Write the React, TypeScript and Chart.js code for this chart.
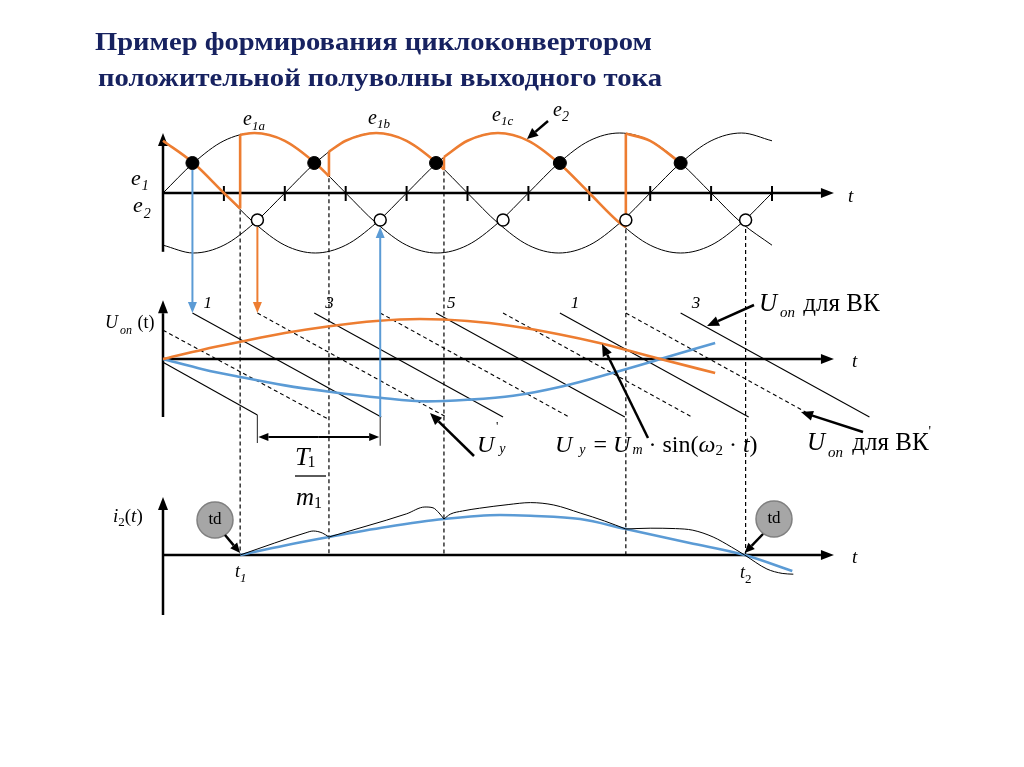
import React, { useEffect, useRef } from 'react';
import { Chart, registerables } from 'chart.js';

Chart.register(...registerables);

// ---------------- data ----------------
// supply phase, electrical degrees
const PHASE = [0, 30, 60, 90, 120, 150, 180, 210, 240, 270, 300, 330, 360, 390, 420, 450, 480, 510, 540, 570, 600];
const E1_A = [0, 0.5, 0.87, 1, 0.87, 0.5, 0, -0.5, -0.87, -1, -0.87, -0.5, 0, 0.5, 0.87, 1, 0.87, 0.5, 0, -0.5, -0.87];
const E1_B = [-0.87, -1, -0.87, -0.5, 0, 0.5, 0.87, 1, 0.87, 0.5, 0, -0.5, -0.87, -1, -0.87, -0.5, 0, 0.5, 0.87, 1, 0.87];
const E1_C = [0.87, 0.5, 0, -0.5, -0.87, -1, -0.87, -0.5, 0, 0.5, 0.87, 1, 0.87, 0.5, 0, -0.5, -0.87, -1, -0.87, -0.5, 0];
const PHASE_TICKS = [60, 120, 180, 240, 300, 360, 420, 480, 540, 600];

// orange output envelope e2 (arcs between switchings)
const ENV_X = [
  [0, 30, 60, 76],
  [76, 90, 120, 150, 163.5],
  [163.5, 180, 210, 240, 270, 276.8],
  [276.8, 300, 330, 360, 390, 420, 450, 456],
  [456, 480, 510],
];
const ENV_Y = [
  [0.87, 0.5, 0, -0.26],
  [0.97, 1, 0.87, 0.5, 0.28],
  [0.69, 0.87, 1, 0.87, 0.5, 0.39],
  [0.6, 0.87, 1, 0.87, 0.5, 0, -0.5, -0.57],
  [0.99, 0.87, 0.5],
];

const FILLED_DOT_X = [29, 149, 269, 391, 510];
const FILLED_DOT_Y = [0.5, 0.5, 0.5, 0.5, 0.5];
const OPEN_DOT_X = [93, 214, 335, 456, 574];
const OPEN_DOT_Y = [-0.45, -0.45, -0.45, -0.45, -0.45];

// switching instants (dashed verticals) and where they start on e-diagram
const SWITCH_X = [76, 163.5, 276.8, 456, 574];
const SWITCH_TOP = [-0.26, 0.28, 0.39, -0.57, -0.45];

// ramp (U_on) lines
const VK_RAMP_START = [29, 149, 269, 391, 510];
const VK_RAMP_LABEL = ['1', '3', '5', '1', '3'];
const VKP_RAMP_START = [93, 214, 335, 456];
const RAMP_SPAN = 186;
const RAMP_TOP = 1.15;
const RAMP_BOTTOM = -1.45;
const VK_PART_X = [0, 93];
const VK_PART_Y = [-0.08, -1.4];
const VKP_PART_X = [0, 164];
const VKP_PART_Y = [0.72, -1.52];

// control voltages
const UY_X = [0, 40, 76, 120, 164, 210, 253, 300, 345, 390, 430, 465, 490, 544];
const UY = [0, 0.24, 0.43, 0.65, 0.82, 0.95, 1.0, 0.95, 0.82, 0.62, 0.4, 0.17, 0, -0.35];
const UYP_X = [0, 40, 76, 120, 164, 214, 260, 300, 345, 394, 440, 477, 490, 544];
const UYP = [0, -0.26, -0.45, -0.66, -0.82, -0.97, -1.06, -1.02, -0.92, -0.68, -0.37, -0.1, 0, 0.4];

// output current
const I2_X = [76, 120, 163.5, 220, 276.8, 332, 362, 411, 456, 519, 573, 620];
const I2 = [0, 0.24, 0.45, 0.7, 0.9, 1.0, 0.98, 0.9, 0.65, 0.3, 0, -0.4];
const I2_RIPPLE_X = [
  [76, 110, 140, 148, 157, 163.5],
  [163.5, 200, 240, 258, 266, 272, 276.8],
  [276.8, 283, 295, 312, 340, 362, 385, 411, 435, 456],
  [456, 480, 505, 522, 542, 560, 573, 595, 610, 621],
];
const I2_RIPPLE = [
  [0, 0.3, 0.55, 0.6, 0.55, 0.45],
  [0.45, 0.72, 1.03, 1.2, 1.18, 1.05, 0.9],
  [0.9, 1.02, 1.1, 1.17, 1.26, 1.31, 1.25, 1.05, 0.85, 0.65],
  [0.65, 0.67, 0.66, 0.62, 0.45, 0.2, 0, -0.35, -0.46, -0.48],
];

// ---------------- layout ----------------
const W = 1024;
const H = 767;
const ORANGE = '#ED7D31';
const BLUE = '#5B9BD5';
const NAVY = '#172260';
const FONT = '"Liberation Serif", "Times New Roman", serif';

const X0 = 163, X_PX = 1.015;
const xr = { min: -X0 / X_PX, max: (W - X0) / X_PX };
const yr = (zero: number, ppu: number) => ({ min: -(H - zero) / ppu, max: zero / ppu });

const pts = (xs: number[], ys: number[]) => xs.map((x, i) => ({ x, y: ys[i] }));

function line(xs: number[], ys: number[], yAxisID: string, color: string, width: number, extra: any = {}) {
  return {
    data: pts(xs, ys),
    xAxisID: 'x',
    yAxisID,
    borderColor: color,
    backgroundColor: color,
    borderWidth: width,
    pointRadius: 0,
    fill: false,
    cubicInterpolationMode: 'monotone',
    order: 2,
    ...extra,
  };
}

function buildDatasets() {
  const ds: any[] = [];
  // dots on top
  ds.push({
    data: pts(FILLED_DOT_X, FILLED_DOT_Y), xAxisID: 'x', yAxisID: 'yTop', showLine: false,
    pointRadius: 6.5, pointBackgroundColor: '#000', pointBorderColor: '#000', pointBorderWidth: 1, order: 0,
  });
  ds.push({
    data: pts(OPEN_DOT_X, OPEN_DOT_Y), xAxisID: 'x', yAxisID: 'yTop', showLine: false,
    pointRadius: 6, pointBackgroundColor: '#fff', pointBorderColor: '#000', pointBorderWidth: 1.5, order: 0,
  });
  // e1 three phases
  [E1_A, E1_B, E1_C].forEach((e) => ds.push(line(PHASE, e, 'yTop', '#000', 1)));
  // orange envelope
  ENV_X.forEach((xs, i) => {
    ds.push(line(xs, ENV_Y[i], 'yTop', ORANGE, 2.6, { order: 1 }));
    if (i < ENV_X.length - 1) {
      const xe = xs[xs.length - 1];
      ds.push(line([xe, xe], [ENV_Y[i][ENV_Y[i].length - 1], ENV_Y[i + 1][0]], 'yTop', ORANGE, 2.6, { order: 1, cubicInterpolationMode: 'default', tension: 0 }));
    }
  });
  // ramps
  VK_RAMP_START.forEach((s) => ds.push(line([s, s + RAMP_SPAN], [RAMP_TOP, RAMP_BOTTOM], 'yMid', '#000', 1.1, { tension: 0, cubicInterpolationMode: 'default' })));
  VKP_RAMP_START.forEach((s) => ds.push(line([s, s + RAMP_SPAN], [RAMP_TOP, RAMP_BOTTOM], 'yMid', '#000', 1.1, { tension: 0, cubicInterpolationMode: 'default', borderDash: [4, 3] })));
  ds.push(line(VK_PART_X, VK_PART_Y, 'yMid', '#000', 1.1, { tension: 0, cubicInterpolationMode: 'default' }));
  ds.push(line(VKP_PART_X, VKP_PART_Y, 'yMid', '#000', 1.1, { tension: 0, cubicInterpolationMode: 'default', borderDash: [4, 3] }));
  // control signals
  ds.push(line(UY_X, UY, 'yMid', ORANGE, 2.6, { order: 1 }));
  ds.push(line(UYP_X, UYP, 'yMid', BLUE, 2.6, { order: 1 }));
  // current
  ds.push(line(I2_X, I2, 'yBot', BLUE, 2.6, { order: 1 }));
  I2_RIPPLE_X.forEach((xs, i) => ds.push(line(xs, I2_RIPPLE[i], 'yBot', '#000', 1, { order: 0 })));
  return ds;
}

// ---------------- drawing helpers ----------------
type Run = { t: string; s: number; it?: boolean; dy?: number; dx?: number };

function setFont(ctx: CanvasRenderingContext2D, size: number, it = false, bold = false) {
  ctx.font = `${it ? 'italic ' : ''}${bold ? 'bold ' : ''}${size}px ${FONT}`;
}

function runs(ctx: CanvasRenderingContext2D, x: number, y: number, rs: Run[], color = '#000') {
  ctx.fillStyle = color;
  ctx.textAlign = 'left';
  ctx.textBaseline = 'alphabetic';
  let cx = x;
  for (const r of rs) {
    cx += r.dx || 0;
    setFont(ctx, r.s, !!r.it);
    ctx.fillText(r.t, cx, y + (r.dy || 0));
    cx += ctx.measureText(r.t).width;
  }
}

function fitText(ctx: CanvasRenderingContext2D, text: string, x0: number, x1: number, y: number, size: number, color: string) {
  setFont(ctx, size, false, true);
  const w = ctx.measureText(text).width;
  ctx.save();
  ctx.fillStyle = color;
  ctx.textAlign = 'left';
  ctx.textBaseline = 'alphabetic';
  ctx.translate(x0, y);
  ctx.scale((x1 - x0) / w, 1);
  ctx.fillText(text, 0, 0);
  ctx.restore();
}

function arrow(ctx: CanvasRenderingContext2D, x1: number, y1: number, x2: number, y2: number, color: string, width: number, hl = 11, hw = 4.5) {
  const a = Math.atan2(y2 - y1, x2 - x1);
  const bx = x2 - hl * Math.cos(a), by = y2 - hl * Math.sin(a);
  ctx.save();
  ctx.strokeStyle = color;
  ctx.fillStyle = color;
  ctx.lineWidth = width;
  ctx.setLineDash([]);
  ctx.beginPath();
  ctx.moveTo(x1, y1);
  ctx.lineTo(bx, by);
  ctx.stroke();
  ctx.beginPath();
  ctx.moveTo(x2, y2);
  ctx.lineTo(bx + hw * Math.sin(a), by - hw * Math.cos(a));
  ctx.lineTo(bx - hw * Math.sin(a), by + hw * Math.cos(a));
  ctx.closePath();
  ctx.fill();
  ctx.restore();
}

function seg(ctx: CanvasRenderingContext2D, x1: number, y1: number, x2: number, y2: number, color: string, width: number, dash: number[] = []) {
  ctx.save();
  ctx.strokeStyle = color;
  ctx.lineWidth = width;
  ctx.setLineDash(dash);
  ctx.beginPath();
  ctx.moveTo(x1, y1);
  ctx.lineTo(x2, y2);
  ctx.stroke();
  ctx.restore();
}

const diagramPlugin = {
  id: 'diagram',
  beforeDatasetsDraw(chart: any) {
    const ctx: CanvasRenderingContext2D = chart.ctx;
    const sx = chart.scales.x, yT = chart.scales.yTop, yM = chart.scales.yMid, yB = chart.scales.yBot;
    const ox = sx.getPixelForValue(0);
    // dashed switching lines
    SWITCH_X.forEach((t, i) => {
      const px = sx.getPixelForValue(t);
      seg(ctx, px, yT.getPixelForValue(SWITCH_TOP[i]) + 2, px, yB.getPixelForValue(0), '#000', 1.2, [4, 3]);
    });
    // axes
    const axes: [any, number, number][] = [
      [yT, 1.0, -0.98],
      [yM, 1.47, -1.45],
      [yB, 1.45, -1.5],
    ];
    axes.forEach(([ys, top, bot]) => {
      const py = ys.getPixelForValue(0);
      arrow(ctx, ox, py, sx.getPixelForValue(661), py, '#000', 2.5, 13, 5);
      arrow(ctx, ox, ys.getPixelForValue(bot), ox, ys.getPixelForValue(top), '#000', 2.5, 13, 5);
    });
    // phase ticks
    const py0 = yT.getPixelForValue(0);
    PHASE_TICKS.forEach((t) => {
      const px = sx.getPixelForValue(t);
      seg(ctx, px, py0 - 7, px, py0 + 8, '#000', 2);
    });
  },
  afterDatasetsDraw(chart: any) {
    const ctx: CanvasRenderingContext2D = chart.ctx;
    const sx = chart.scales.x, yT = chart.scales.yTop, yM = chart.scales.yMid, yB = chart.scales.yBot;

    // title
    fitText(ctx, 'Пример формирования циклоконвертором', 95, 652, 50, 26, NAVY);
    fitText(ctx, 'положительной полуволны выходного тока', 98, 662, 86, 26, NAVY);

    // vertical transfer arrows
    {
      const x1 = sx.getPixelForValue(FILLED_DOT_X[0]);
      arrow(ctx, x1, yT.getPixelForValue(FILLED_DOT_Y[0]) + 7, x1, yM.getPixelForValue(RAMP_TOP), BLUE, 2, 11, 4.5);
      const x2 = sx.getPixelForValue(OPEN_DOT_X[0]);
      arrow(ctx, x2, yT.getPixelForValue(OPEN_DOT_Y[0]) + 7, x2, yM.getPixelForValue(RAMP_TOP), ORANGE, 2, 11, 4.5);
      const x3 = sx.getPixelForValue(OPEN_DOT_X[1]);
      arrow(ctx, x3, yM.getPixelForValue(RAMP_BOTTOM), x3, yT.getPixelForValue(OPEN_DOT_Y[1]) + 7, BLUE, 2, 11, 4.5);
    }

    // T1/m1 dimension
    {
      const xa = sx.getPixelForValue(VK_PART_X[1]);
      const xb = sx.getPixelForValue(OPEN_DOT_X[1]);
      seg(ctx, xa, yM.getPixelForValue(VK_PART_Y[1]), xa, yM.getPixelForValue(-2.1), '#444', 1.2);
      seg(ctx, xb, yM.getPixelForValue(RAMP_BOTTOM), xb, yM.getPixelForValue(-2.17), '#444', 1.2);
      const yy = yM.getPixelForValue(-1.95);
      arrow(ctx, (xa + xb) / 2, yy, xb - 1, yy, '#000', 1.8, 10, 4);
      arrow(ctx, (xa + xb) / 2, yy, xa + 1, yy, '#000', 1.8, 10, 4);
    }

    // e labels
    runs(ctx, 131, 185, [{ t: 'e', s: 22, it: true }, { t: '1', s: 14, it: true, dy: 5, dx: 1 }]);
    runs(ctx, 133, 212, [{ t: 'e', s: 22, it: true }, { t: '2', s: 14, it: true, dy: 6, dx: 1 }]);
    runs(ctx, 243, 125, [{ t: 'e', s: 20, it: true }, { t: '1a', s: 13, it: true, dy: 5 }]);
    runs(ctx, 368, 124, [{ t: 'e', s: 20, it: true }, { t: '1b', s: 13, it: true, dy: 4 }]);
    runs(ctx, 492, 121, [{ t: 'e', s: 20, it: true }, { t: '1c', s: 13, it: true, dy: 4 }]);
    runs(ctx, 553, 116, [{ t: 'e', s: 20, it: true }, { t: '2', s: 14, it: true, dy: 5 }]);
    arrow(ctx, 548, 121, 527, 139, '#000', 2.5, 11, 5);
    runs(ctx, 848, 202, [{ t: 't', s: 19, it: true }]);

    // middle panel labels
    runs(ctx, 105, 328, [{ t: 'U', s: 18, it: true }, { t: 'on', s: 12, it: true, dy: 6, dx: 2 }, { t: ' (t)', s: 18, dx: 1 }]);
    VK_RAMP_START.forEach((s, i) => {
      const px = sx.getPixelForValue(s);
      runs(ctx, px + 11, 308, [{ t: VK_RAMP_LABEL[i], s: 17, it: true }]);
    });
    runs(ctx, 852, 367, [{ t: 't', s: 19, it: true }]);
    runs(ctx, 759, 311, [{ t: 'U', s: 25, it: true }, { t: 'on', s: 15, it: true, dy: 6, dx: 3 }, { t: ' для ВК', s: 25, dx: 2 }]);
    arrow(ctx, 754, 305, 707, 326, '#000', 2.5, 12, 5);
    runs(ctx, 807, 450, [{ t: 'U', s: 25, it: true }, { t: 'on', s: 15, it: true, dy: 7, dx: 3 }, { t: ' для ВК', s: 25, dx: 3 }, { t: "'", s: 14, dy: -14 }]);
    arrow(ctx, 863, 432, 801, 412, '#000', 2.5, 12, 5);
    runs(ctx, 477, 452, [{ t: 'U', s: 24, it: true }, { t: 'y', s: 14, it: true, dy: 1, dx: 5 }]);
    runs(ctx, 496, 430, [{ t: "'", s: 13 }]);
    arrow(ctx, 474, 456, 430, 413, '#000', 2.5, 12, 5);
    runs(ctx, 555, 452, [
      { t: 'U', s: 24, it: true }, { t: 'y', s: 14, it: true, dy: 2, dx: 7 },
      { t: ' = ', s: 24, dx: 2 }, { t: 'U', s: 24, it: true }, { t: 'm', s: 14, it: true, dy: 2, dx: 2 },
      { t: ' · sin(', s: 24 }, { t: 'ω', s: 24, it: true }, { t: '2', s: 15, dy: 3 },
      { t: ' · ', s: 24 }, { t: 't', s: 24, it: true }, { t: ')', s: 24 },
    ]);
    arrow(ctx, 648, 438, 602, 344, '#000', 2.5, 12, 5);
    // T1 / m1
    runs(ctx, 295, 465, [{ t: 'T', s: 26, it: true }, { t: '1', s: 16, dy: 2, dx: -2 }]);
    seg(ctx, 295, 476, 326, 476, '#000', 1.3);
    runs(ctx, 296, 505, [{ t: 'm', s: 25, it: true }, { t: '1', s: 16, dy: 3 }]);

    // bottom panel labels
    runs(ctx, 113, 522, [{ t: 'i', s: 19, it: true }, { t: '2', s: 13, dy: 4 }, { t: '(', s: 19 }, { t: 't', s: 19, it: true }, { t: ')', s: 19 }]);
    runs(ctx, 235, 577, [{ t: 't', s: 18, it: true }, { t: '1', s: 13, it: true, dy: 5 }]);
    runs(ctx, 740, 578, [{ t: 't', s: 18, it: true }, { t: '2', s: 13, dy: 5 }]);
    runs(ctx, 852, 563, [{ t: 't', s: 19, it: true }]);
    const td = (cx: number, cy: number) => {
      ctx.save();
      ctx.beginPath();
      ctx.arc(cx, cy, 18, 0, Math.PI * 2);
      ctx.fillStyle = '#a6a6a6';
      ctx.fill();
      ctx.strokeStyle = '#808080';
      ctx.lineWidth = 1.5;
      ctx.stroke();
      ctx.fillStyle = '#000';
      setFont(ctx, 17);
      ctx.textAlign = 'center';
      ctx.textBaseline = 'middle';
      ctx.fillText('td', cx, cy);
      ctx.restore();
    };
    td(215, 520);
    td(774, 519);
    const t1x = sx.getPixelForValue(I2_X[0]);
    const t2x = sx.getPixelForValue(573);
    const yb0 = yB.getPixelForValue(0);
    arrow(ctx, 225, 535, t1x, yb0 - 2, '#000', 2.5, 10, 4.5);
    arrow(ctx, 763, 534, t2x, yb0 - 2, '#000', 2.5, 10, 4.5);
  },
};

export default function App() {
  const ref = useRef<HTMLCanvasElement>(null);
  useEffect(() => {
    const canvas = ref.current!;
    const chart = new Chart(canvas, {
      type: 'line',
      data: { datasets: buildDatasets() },
      options: {
        responsive: false,
        animation: false,
        events: [],
        layout: { padding: 0, autoPadding: false },
        plugins: { legend: { display: false }, tooltip: { enabled: false }, title: { display: false } },
        scales: {
          x: { type: 'linear', display: false, min: xr.min, max: xr.max },
          yTop: { type: 'linear', display: false, ...yr(193, 60) },
          yMid: { type: 'linear', display: false, ...yr(359, 40) },
          yBot: { type: 'linear', display: false, ...yr(555, 40) },
        },
      } as any,
      plugins: [diagramPlugin as any],
    });
    return () => chart.destroy();
  }, []);
  return (
    <div style={{ position: 'absolute', left: 0, top: 0, width: W, height: H, background: '#fff' }}>
      <canvas ref={ref} width={W} height={H} style={{ display: 'block' }} />
    </div>
  );
}
